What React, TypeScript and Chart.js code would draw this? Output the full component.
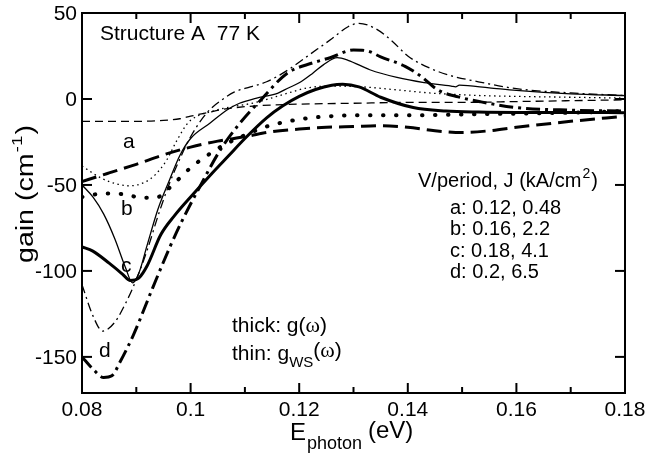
import React, { useEffect, useRef } from "react";
import { Chart, registerables } from "chart.js";
Chart.register(...registerables);

// ---- axis ticks ----
const xMajorTicks = [0.08, 0.1, 0.12, 0.14, 0.16, 0.18];
const xTickLabels = ["0.08", "0.1", "0.12", "0.14", "0.16", "0.18"];
const xMinorTicks = [0.09, 0.11, 0.13, 0.15, 0.17];
const yTicks = [-150, -100, -50, 0, 50];
const yTickLabels = ["-150", "-100", "-50", "0", "50"];

// ---- series a ----
const aThickE = [0.08, 0.085, 0.09, 0.095, 0.1, 0.105, 0.11, 0.115, 0.12, 0.125, 0.13, 0.135, 0.14, 0.145, 0.15, 0.155, 0.16, 0.17, 0.18];
const aThickG = [-48, -43, -38, -32.5, -28, -24.5, -22, -19, -17.5, -16.5, -16, -15.5, -16.5, -18.5, -19.5, -18.5, -16.5, -13, -10];
const aThinE = [0.08, 0.09, 0.095, 0.098, 0.1, 0.103, 0.106, 0.11, 0.115, 0.12, 0.13, 0.14, 0.15, 0.16, 0.17, 0.18];
const aThinG = [-13, -13, -12.5, -11.5, -10, -8, -6, -4.5, -3.5, -3, -2.5, -2, -2, -1.5, -1, -0.5];

// ---- series b ----
const bThickE = [0.08, 0.084, 0.088, 0.091, 0.094, 0.096, 0.098, 0.1, 0.103, 0.106, 0.11, 0.114, 0.118, 0.122, 0.126, 0.13, 0.135, 0.14, 0.15, 0.16, 0.17, 0.18];
const bThickG = [-57, -55, -55.5, -57.5, -57, -52, -46, -40, -33, -27, -21, -16, -13, -11, -10, -9.5, -9.5, -9.5, -9, -8.5, -8, -7];
const bThinE = [0.08, 0.0835, 0.0865, 0.0888, 0.0915, 0.0935, 0.0955, 0.0975, 0.0995, 0.1015, 0.103, 0.106, 0.112, 0.118, 0.1214, 0.1257, 0.1318, 0.138, 0.144, 0.1533, 0.16, 0.17, 0.18];
const bThinG = [-39, -46, -49.5, -50.5, -48.5, -44, -36, -24, -14, -9.5, -8, -5.5, -2, 3.5, 6.4, 7.5, 7, 5.3, 3.5, 2, 1.5, 1, 0.5];

// ---- series c ----
const cThickE = [0.08, 0.082, 0.085, 0.0875, 0.0888, 0.0905, 0.092, 0.0945, 0.097, 0.1, 0.104, 0.107, 0.11, 0.114, 0.117, 0.12, 0.123, 0.126, 0.128, 0.131, 0.135, 0.141, 0.147, 0.153, 0.16, 0.17, 0.18];
const cThickG = [-86, -88.5, -95.5, -102, -105.5, -104, -97, -79, -68, -57, -43, -33, -23, -11, -4, 1.5, 5.5, 8, 8.5, 7, 1, -5, -7, -7.6, -7.8, -7.8, -8];
const cThinE = [0.08, 0.082, 0.084, 0.086, 0.088, 0.0893, 0.0905, 0.092, 0.094, 0.096, 0.098, 0.1, 0.1036, 0.1067, 0.109, 0.112, 0.116, 0.118, 0.12, 0.1225, 0.1245, 0.127, 0.129, 0.133, 0.138, 0.143, 0.148, 0.1488, 0.1495, 0.155, 0.16, 0.17, 0.18];
const cThinG = [-50, -57, -67, -81, -98, -107, -101, -85, -64, -48, -33, -23, -14, -6.4, -2.5, 0.4, 3.3, 6.4, 9.4, 15, 20, 24, 22.5, 17, 12.5, 9.5, 7.5, 7, 8, 6.5, 5, 3, 2];

// ---- series d ----
const dThickE = [0.08, 0.082, 0.084, 0.0855, 0.087, 0.0895, 0.093, 0.0962, 0.0984, 0.1017, 0.1054, 0.1091, 0.1128, 0.1178, 0.1225, 0.1257, 0.13, 0.1325, 0.135, 0.1395, 0.1425, 0.1455, 0.1493, 0.1535, 0.16, 0.17, 0.18];
const dThickG = [-150, -157, -162, -161, -153, -137, -110, -86, -71, -51, -30, -14, -1, 15, 21, 24, 28.5, 28, 24.5, 19, 13, 5.3, 1.2, -1.7, -5, -6.5, -7];
const dThinE = [0.08, 0.082, 0.0838, 0.086, 0.088, 0.09, 0.092, 0.094, 0.096, 0.098, 0.1, 0.103, 0.106, 0.108, 0.111, 0.114, 0.118, 0.122, 0.126, 0.129, 0.131, 0.134, 0.137, 0.14, 0.144, 0.148, 0.153, 0.16, 0.17, 0.18];
const dThinG = [-108, -126, -135, -130, -119, -105, -88, -68, -50, -35, -22, -8, 0, 4, 7, 10, 17, 26, 35, 42, 44, 41, 34, 25, 18, 13.5, 10, 6, 3.5, 2];

// ---- annotations ----
const curveLabels = ["a", "b", "c", "d"];
const legendTitle = "V/period, J (kA/cm";
const legendRows = ["a: 0.12, 0.48", "b: 0.16, 2.2", "c: 0.18, 4.1", "d: 0.2, 6.5"];
const headerText = "Structure A  77 K";

const SANS = '"Liberation Sans", Arial, Helvetica, sans-serif';
const SERIF = '"Liberation Serif", "Times New Roman", serif';

function pts(xs: number[], ys: number[]) {
  return xs.map((x, i) => ({ x, y: ys[i] }));
}

function ds(label: string, xs: number[], ys: number[], width: number, dash: number[], cap: CanvasLineCap = "butt") {
  return {
    label,
    data: pts(xs, ys),
    borderColor: "#000",
    borderWidth: width,
    borderDash: dash,
    borderCapStyle: cap,
    pointRadius: 0,
    fill: false,
    cubicInterpolationMode: "monotone" as const,
  };
}

const deco = {
  id: "deco",
  afterDraw(chart: any) {
    const { ctx, chartArea: ca, scales } = chart;
    const xs = scales.x;
    const ys = scales.y;
    ctx.save();
    ctx.strokeStyle = "#000";
    ctx.fillStyle = "#000";
    ctx.lineWidth = 2;
    ctx.setLineDash([]);
    ctx.strokeRect(ca.left, ca.top, ca.right - ca.left, ca.bottom - ca.top);
    const seg = (x1: number, y1: number, x2: number, y2: number) => {
      ctx.beginPath();
      ctx.moveTo(x1, y1);
      ctx.lineTo(x2, y2);
      ctx.stroke();
    };
    xMajorTicks.forEach((v) => {
      const p = xs.getPixelForValue(v);
      seg(p, ca.bottom, p, ca.bottom - 10);
      seg(p, ca.top, p, ca.top + 10);
    });
    xMinorTicks.forEach((v) => {
      const p = xs.getPixelForValue(v);
      seg(p, ca.bottom, p, ca.bottom - 6);
      seg(p, ca.top, p, ca.top + 6);
    });
    yTicks.forEach((v) => {
      const p = ys.getPixelForValue(v);
      seg(ca.left, p, ca.left + 10, p);
      seg(ca.right, p, ca.right - 10, p);
    });

    const txt = (s: string, x: number, y: number, font: string, align: CanvasTextAlign = "left", base: CanvasTextBaseline = "alphabetic") => {
      ctx.font = font;
      ctx.textAlign = align;
      ctx.textBaseline = base;
      ctx.fillText(s, x, y);
      return ctx.measureText(s).width;
    };

    // tick labels
    xMajorTicks.forEach((v, i) => {
      txt(xTickLabels[i], xs.getPixelForValue(v), 416, `21px ${SANS}`, "center");
    });
    yTicks.forEach((v, i) => {
      txt(yTickLabels[i], 77, ys.getPixelForValue(v) + 1, `21px ${SANS}`, "right", "middle");
    });

    // header
    txt(headerText, 100, 40, `21px ${SANS}`);

    // curve labels
    const lf = `21px ${SANS}`;
    txt(curveLabels[0], 123, 148, lf);
    txt(curveLabels[1], 121, 215, lf);
    txt(curveLabels[2], 121, 272, lf);
    txt(curveLabels[3], 99, 357, lf);

    // legend
    const f20 = `20px ${SANS}`;
    let w = txt(legendTitle, 418, 187, f20);
    const w2 = txt("2", 418 + w + 1, 178, `14px ${SANS}`);
    txt(")", 418 + w + w2 + 2, 187, f20);
    const rowBase = [213.5, 235, 256.5, 278];
    legendRows.forEach((r, i) => txt(r, 450, rowBase[i], f20));

    // thick / thin note
    const f21 = `21px ${SANS}`;
    w = txt("thick: g(", 232, 332, f21);
    const wo = txt("\u03c9", 232 + w, 332, `22px ${SERIF}`);
    txt(")", 232 + w + wo, 332, f21);
    w = txt("thin: g", 232, 360, f21);
    const ws = txt("WS", 232 + w, 367, `15px ${SANS}`);
    const x0 = 232 + w + ws;
    const wp = txt("(", x0, 357, f21);
    const wo2 = txt("\u03c9", x0 + wp, 357, `22px ${SERIF}`);
    txt(")", x0 + wp + wo2, 357, f21);

    // x title
    txt("E", 290, 440, `24px ${SANS}`);
    txt("photon", 307, 449, `18px ${SANS}`);
    txt("(eV)", 368, 438, `24px ${SANS}`);

    // y title (rotated)
    ctx.save();
    ctx.translate(33, 263);
    ctx.rotate(-Math.PI / 2);
    ctx.font = `23px ${SANS}`;
    const wa = ctx.measureText("gain (cm").width;
    ctx.font = `15px ${SANS}`;
    const wb = ctx.measureText("-1").width;
    ctx.font = `23px ${SANS}`;
    const wc = ctx.measureText(")").width;
    const total = wa + wb + wc + 2;
    const sx = 138 / total;
    ctx.scale(sx, 1);
    ctx.textAlign = "left";
    ctx.textBaseline = "alphabetic";
    ctx.fillText("gain (cm", 0, 0);
    ctx.font = `15px ${SANS}`;
    ctx.fillText("-1", wa + 1, -11);
    ctx.font = `23px ${SANS}`;
    ctx.fillText(")", wa + wb + 2, 0);
    ctx.restore();

    ctx.restore();
  },
};

export default function App() {
  const ref = useRef<HTMLCanvasElement>(null);
  useEffect(() => {
    if (!ref.current) return;
    const chart = new Chart(ref.current, {
      type: "line",
      data: {
        datasets: [
          ds("a thick", aThickE, aThickG, 3, [15, 7]),
          ds("a thin", aThinE, aThinG, 1.3, [8, 5]),
          ds("b thick", bThickE, bThickG, 4, [0.5, 12.5], "round"),
          ds("b thin", bThinE, bThinG, 1.3, [1.5, 3.5]),
          ds("c thick", cThickE, cThickG, 3, []),
          ds("c thin", cThinE, cThinG, 1.3, []),
          ds("d thick", dThickE, dThickG, 3, [14, 5, 3, 5]),
          ds("d thin", dThinE, dThinG, 1.3, [9, 4, 2, 4]),
        ] as any,
      },
      options: {
        animation: false,
        responsive: false,
        maintainAspectRatio: false,
        devicePixelRatio: 1,
        layout: { padding: { left: 82, top: 13, right: 22, bottom: 60 } },
        plugins: { legend: { display: false }, tooltip: { enabled: false } },
        scales: {
          x: { type: "linear", min: 0.08, max: 0.18, display: false },
          y: { type: "linear", min: -171, max: 50, display: false },
        },
      },
      plugins: [deco],
    });
    return () => chart.destroy();
  }, []);
  return (
    <div style={{ position: "absolute", left: 0, top: 0, width: 647, height: 453, background: "#fff" }}>
      <canvas ref={ref} width={647} height={453} style={{ width: 647, height: 453 }} />
    </div>
  );
}
